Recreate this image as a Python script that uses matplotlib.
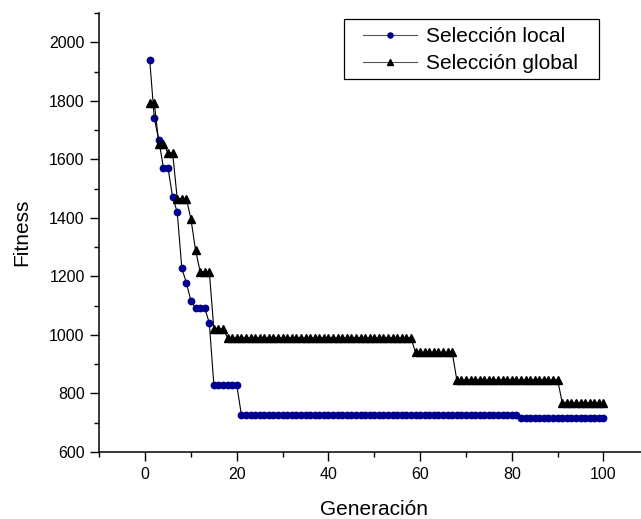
import matplotlib
matplotlib.use('Agg')
import matplotlib.pyplot as plt
from matplotlib.patches import Rectangle
from matplotlib.ticker import MultipleLocator

plt.rcParams['font.family'] = ['Liberation Sans', 'DejaVu Sans']

# generations 1..100
generacion = list(range(1, 101))

local_fit = ([1940, 1740, 1665, 1570, 1570, 1470, 1420, 1228, 1178, 1116,
              1092, 1092, 1092, 1041]
             + [828] * 6
             + [727] * 61
             + [717] * 19)

global_fit = ([1792, 1792, 1652, 1652, 1622, 1622, 1466, 1466, 1466, 1395,
               1290, 1216, 1216, 1216, 1020, 1020, 1020]
              + [990] * 41
              + [940] * 9
              + [846] * 23
              + [769] * 10)

W, H = 641, 519
fig = plt.figure(figsize=(W / 100, H / 100), dpi=100)
ax = fig.add_axes([99.3 / W, 67 / H, 550 / W, 439 / H])

ax.plot(generacion, local_fit, color='black', linewidth=0.8,
        marker='o', markersize=4.6, markerfacecolor='#000090',
        markeredgecolor='#000090', label='Selección local')
ax.plot(generacion, global_fit, color='black', linewidth=0.8,
        marker='^', markersize=5.2, markerfacecolor='black',
        markeredgecolor='black', label='Selección global')

ax.set_xlim(-10, 110)
ax.set_ylim(600, 2100)
ax.xaxis.set_major_locator(MultipleLocator(20))
ax.xaxis.set_minor_locator(MultipleLocator(10))
ax.yaxis.set_major_locator(MultipleLocator(200))
ax.yaxis.set_minor_locator(MultipleLocator(100))

ax.spines['top'].set_visible(False)
ax.spines['right'].set_visible(False)
for s in ['left', 'bottom']:
    ax.spines[s].set_linewidth(1.1)

ax.tick_params(which='major', direction='out', length=6.5, width=1.0,
               labelsize=11.5, pad=4)
ax.tick_params(which='minor', direction='out', length=3.3, width=1.0)

ax.set_xlabel('Generación', fontsize=15, labelpad=13)
ax.set_ylabel('Fitness', fontsize=15, labelpad=13)

# legend box drawn separately so the inner padding matches
ax.add_patch(Rectangle((344 / W, 1 - 79 / H), 255 / W, 60 / H,
                       transform=fig.transFigure, facecolor='white',
                       edgecolor='black', linewidth=0.9, zorder=4,
                       clip_on=False))
leg = ax.legend(loc='upper left', bbox_to_anchor=(363 / W, 1 - 27 / H),
                bbox_transform=fig.transFigure, borderaxespad=0, borderpad=0,
                fontsize=15, frameon=False, handlelength=2.6,
                handletextpad=0.4, labelspacing=0.38, markerscale=0.8)
leg.set_zorder(6)
for h in leg.legend_handles:
    h.set_color('#555555')
leg.legend_handles[0].set_markerfacecolor('#000090')
leg.legend_handles[0].set_markeredgecolor('#000090')
leg.legend_handles[1].set_markerfacecolor('black')
leg.legend_handles[1].set_markeredgecolor('black')

fig.savefig('out.png', dpi=100)
